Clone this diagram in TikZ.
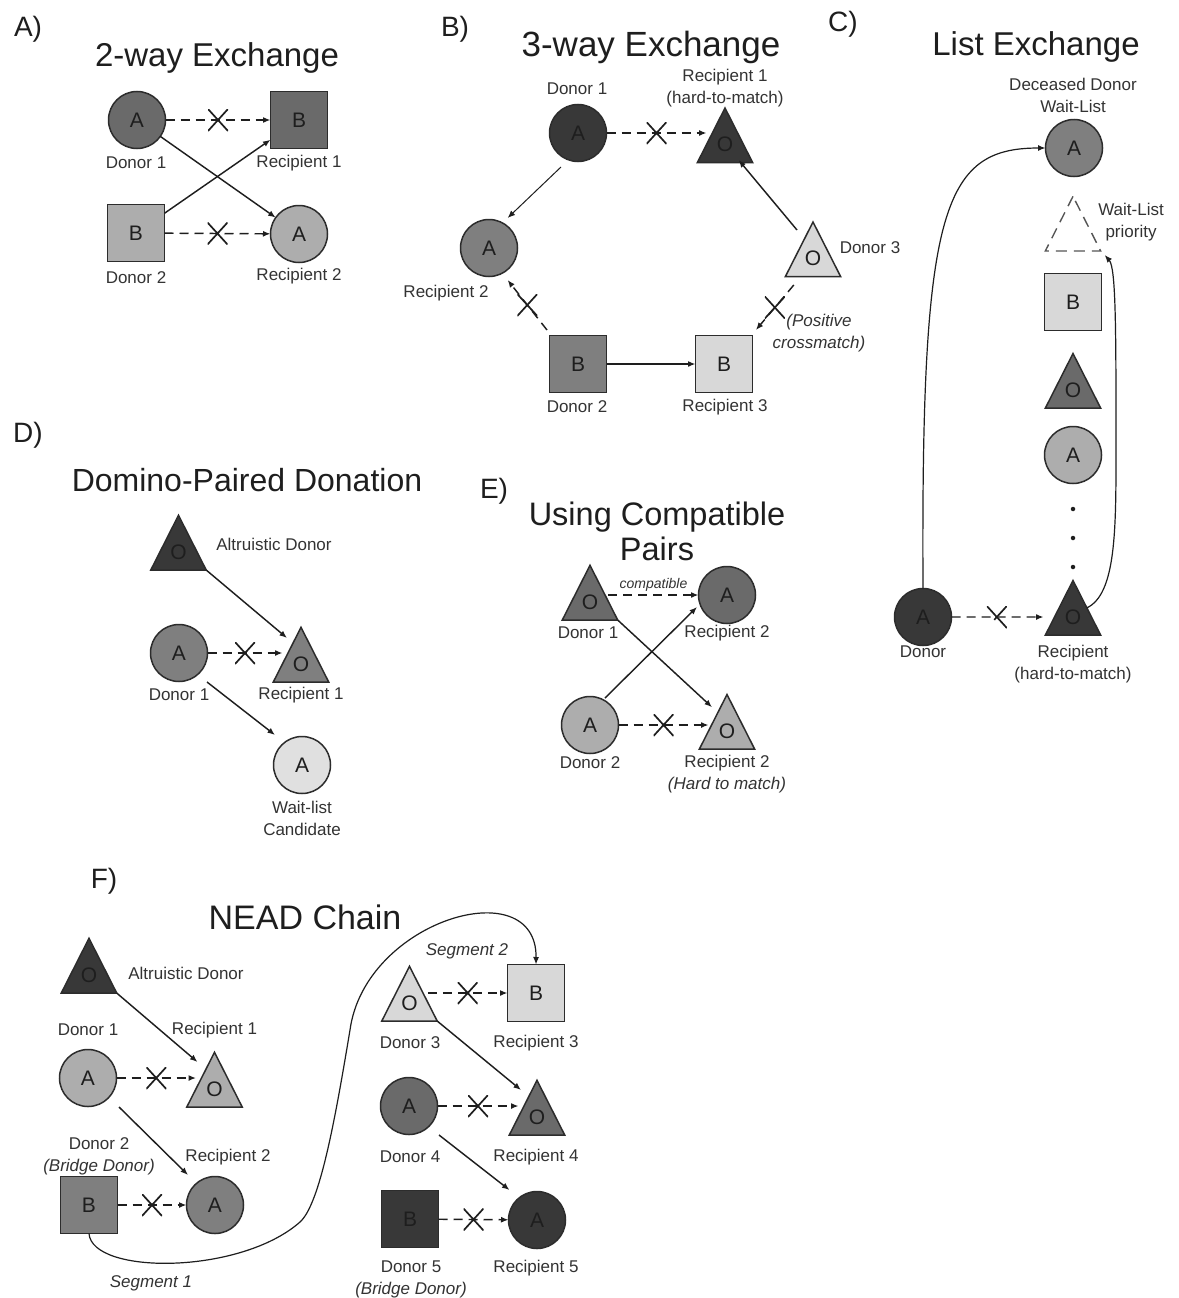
\documentclass[tikz,border=0pt]{standalone}
\usepackage{fontspec}
\setmainfont{Liberation Sans}
\usetikzlibrary{arrows.meta,shapes.geometric,calc}

\definecolor{edge}{HTML}{2C2C2C}
\definecolor{ink}{HTML}{1E1E1E}
\definecolor{lbltxt}{HTML}{333333}
\definecolor{gA}{HTML}{383838}
\definecolor{gB}{HTML}{6A6A6A}
\definecolor{gC}{HTML}{7F7F7F}
\definecolor{gD}{HTML}{ADADAD}
\definecolor{gE}{HTML}{D8D8D8}
\definecolor{gF}{HTML}{E0E0E0}

\newcommand\lblsize{\fontsize{17}{22}\selectfont}
\newcommand\lettersize{\fontsize{21}{24}\selectfont}
\newcommand\panelsize{\fontsize{28}{30}\selectfont}
\newcommand\tinysize{\fontsize{14}{16}\selectfont\itshape}
\newcommand\titlesize[1]{\fontsize{#1}{35}\selectfont}
% letter inside a triangle, undoing the vertical stretch of the shape
\newcommand\triO{\scalebox{1}[0.877]{O}}

\tikzset{
  blood/.style={draw=edge, line width=1.5pt, inner sep=0pt, outer sep=0pt, font=\lettersize, text=ink},
  circ/.style={blood, circle, minimum size=57pt},
  sq/.style={blood, rectangle, minimum size=57pt},
  tri/.style={blood, regular polygon, regular polygon sides=3, minimum size=64pt, yscale=1.14, transform shape},
  lbl/.style={font=\lblsize, text=lbltxt, inner sep=0pt, align=center},
  ilbl/.style={lbl, font=\lblsize\itshape},
  tinylbl/.style={font=\tinysize, text=lbltxt, inner sep=0pt},
  ttl/.style={text=ink, inner sep=0pt, align=center, font=\titlesize{#1}},
  panel/.style={font=\panelsize, text=ink, inner sep=0pt},
  give/.style={draw=ink, line width=1.45pt, -{Latex[length=7.5pt,width=6pt]}},
  thingive/.style={give, line width=1pt},
  nogo/.style={give, dash pattern=on 9pt off 6pt},
  xmark/.style={minimum width=20pt, minimum height=22pt, inner sep=0pt, outer sep=0pt, solid,
    path picture={\draw[ink, line width=1.7pt, solid, -]
      (path picture bounding box.north west) -- (path picture bounding box.south east)
      (path picture bounding box.north east) -- (path picture bounding box.south west);}},
  dotn/.style={circle, fill=ink, minimum size=4.5pt, inner sep=0pt},
}

\begin{document}
\begin{tikzpicture}[x=1pt,y=-1pt]
\fill[white] (0,0) rectangle (1178,1298);
\useasboundingbox (0,0) rectangle (1178,1298);

% ---------------- A) 2-way exchange ----------------
\node[panel] (pA) at (28,29) {A)};
\node[ttl=33] (tA) at (217,58) {2-way Exchange};
\node[circ, fill=gB] (aD1) at (137,120) {A};
\node[sq, fill=gB] (aR1) at (299,120) {B};
\node[sq, fill=gD] (aD2) at (136,233) {B};
\node[circ, fill=gD] (aR2) at (299,234) {A};
\node[lbl] (laD1) at (136,163) {Donor 1};
\node[lbl] (laR1) at (299,163) {Recipient 1};
\node[lbl] (laD2) at (136,278) {Donor 2};
\node[lbl] (laR2) at (299,276) {Recipient 2};
\draw[nogo] (aD1) -- node[xmark] (xa1) {} (aR1);
\draw[nogo] (aD2) -- node[xmark] (xa2) {} (aR2);
\draw[give] (aD1) -- (aR2);
\draw[give] (aD2) -- (aR1);

% ---------------- B) 3-way exchange ----------------
\node[panel] (pB) at (455,29) {B)};
\node[ttl=35] (tB) at (651,47) {3-way Exchange};
\node[circ, fill=gA] (bD1) at (578,133) {A};
\node[tri, fill=gA] (bR1) at (725,144.5) {\triO};
\node[circ, fill=gC] (bR2) at (489,248) {A};
\node[tri, fill=gE] (bD3) at (813,258.5) {\triO};
\node[sq, fill=gC] (bD2) at (578,364) {B};
\node[sq, fill=gE] (bR3) at (724,364) {B};
\node[lbl] (lbD1) at (577,89) {Donor 1};
\node[lbl] (lbR1) at (725,88) {Recipient 1\\(hard-to-match)};
\node[lbl] (lbR2) at (446,293) {Recipient 2};
\node[lbl] (lbD3) at (870,248) {Donor 3};
\node[lbl] (lbD2) at (577,407) {Donor 2};
\node[lbl] (lbR3) at (725,407) {Recipient 3};
\node[ilbl] (lbPC) at (819,333) {(Positive\\crossmatch)};
\draw[nogo] (bD1.east) -- node[xmark] (xb1) {} (bR1.west |- bD1.east);
\draw[thingive] ([shift={(-17,34)}]bD1.center) -- ([shift={(18.6,-30)}]bR2.center);
\draw[give] ([shift={(-16,-28.5)}]bD3.center) -- ([shift={(13.6,15.5)}]bR1.center);
\draw[give] (bD2) -- (bR3);
\draw[nogo] ([shift={(-31,-34)}]bD2.center) -- node[xmark] (xb2) {} ([shift={(18.6,32)}]bR2.center);
\draw[nogo] ([shift={(-19.2,26.5)}]bD3.center) -- node[xmark] (xb3) {} ([shift={(31.9,-34)}]bR3.center);

% ---------------- C) list exchange ----------------
\node[panel] (pC) at (843,24) {C)};
\node[ttl=33] (tC) at (1036,47) {List Exchange};
\node[lbl] (lcDD) at (1073,95) {Deceased Donor\\Wait-List};
\node[circ, fill=gC] (cDD) at (1074,148) {A};
\node[tri, fill=none, draw=edge!80, dash pattern=on 11pt off 7pt, line width=1.4pt] (cWL) at (1073,232.8) {};
\node[lbl] (lcWL) at (1131,222) {Wait-List\\priority};
\node[sq, fill=gE] (cB) at (1073,302) {B};
\node[tri, fill=gB] (cO) at (1073,390) {\triO};
\node[circ, fill=gD] (cA) at (1073,455) {A};
\node[dotn] (cdot1) at (1073,509) {};
\node[dotn] (cdot2) at (1073,538) {};
\node[dotn] (cdot3) at (1073,567) {};
\node[tri, fill=gA] (cR) at (1073,617) {\triO};
\node[circ, fill=gA] (cD) at (923,617) {A};
\node[lbl] (lcD) at (923,652) {Donor};
\node[lbl] (lcR) at (1073,664) {Recipient\\(hard-to-match)};
\draw[nogo, shorten >=11pt] (cD) -- node[xmark, pos=0.44] (xc1) {} (cR);
\draw[give, line width=1.2pt] (cD.north) .. controls (921,210) and (942,148) .. (cDD.west);
\coordinate (cbend) at (1116,450);
\draw[give, line width=1.2pt] (cR.30) .. controls (1116,594) and (1116,530) .. (cbend)
  .. controls (1116,330) and (1116,268) .. ([shift={(4,4)}]cWL.corner 3);

% ---------------- D) domino-paired donation ----------------
\node[panel] (pD) at (28,435) {D)};
\node[ttl=32] (tD) at (247,480) {Domino-Paired Donation};
\node[tri, fill=gA] (dAD) at (178.5,551.8) {\triO};
\node[lbl] (ldAD) at (274,544) {Altruistic Donor};
\node[circ, fill=gC] (dD1) at (179,653) {A};
\node[tri, fill=gC] (dR1) at (301,663.8) {\triO};
\node[circ, fill=gF] (dWL) at (302,765) {A};
\node[lbl] (ldD1) at (179,695) {Donor 1};
\node[lbl] (ldR1) at (301,695) {Recipient 1};
\node[lbl] (ldWL) at (302,818) {Wait-list\\Candidate};
\draw[give] (dAD.corner 3) -- ([shift={(-14,-25.8)}]dR1.center);
\draw[nogo] (dD1.east) -- node[xmark] (xd1) {} (dR1.west |- dD1.east);
\draw[give] ([shift={(28,29)}]dD1.center) -- ([shift={(-27,-30)}]dWL.center);

% ---------------- E) using compatible pairs ----------------
\node[panel] (pE) at (494,491) {E)};
\node[ttl=32.5] (tE) at (657,531) {Using Compatible\\Pairs};
\node[tri, fill=gB] (eD1) at (590,601.8) {\triO};
\node[circ, fill=gB] (eR2a) at (727,595) {A};
\node[circ, fill=gD] (eD2) at (590,725) {A};
\node[tri, fill=gD] (eR2b) at (727,731) {\triO};
\node[lbl] (leD1) at (588,633) {Donor 1};
\node[lbl] (leR2a) at (727,633) {Recipient 2};
\node[lbl] (leD2) at (590,763) {Donor 2};
\node[lbl] (leR2b) at (727,774) {Recipient 2\\{\itshape (Hard to match)}};
\draw[nogo] (eR2a.west -| eD1.east) -- node[tinylbl, above=3pt] (lcomp) {compatible} (eR2a.west);
\draw[nogo] (eD2.east) -- node[xmark] (xe1) {} (eR2b.west |- eD2.east);
\draw[give] (eD1.corner 3) -- ([shift={(-15,-23.8)}]eR2b.center);
\draw[give] ([shift={(15,-27)}]eD2.center) -- ([shift={(-30,12)}]eR2a.center);

% ---------------- F) NEAD chain ----------------
\node[panel] (pF) at (104,881) {F)};
\node[ttl=34] (tF) at (305,917) {NEAD Chain};
\node[tri, fill=gA] (fAD) at (89,974.8) {\triO};
\node[circ, fill=gD] (fD1) at (88,1078) {A};
\node[tri, fill=gD] (fR1) at (214.5,1088.8) {\triO};
\node[sq, fill=gC] (fD2) at (89,1205) {B};
\node[circ, fill=gC] (fR2) at (215,1205) {A};
\node[tri, fill=gE] (fD3) at (409.5,1002.8) {\triO};
\node[sq, fill=gE] (fR3) at (536,993) {B};
\node[circ, fill=gB] (fD4) at (409,1106) {A};
\node[tri, fill=gB] (fR4) at (537,1116.8) {\triO};
\node[sq, fill=gA] (fD5) at (410,1219) {B};
\node[circ, fill=gA] (fR5) at (537,1220) {A};
\node[lbl] (lfAD) at (186,973) {Altruistic Donor};
\node[lbl] (lfD1) at (88,1030) {Donor 1};
\node[lbl] (lfR1) at (214.5,1030) {Recipient 1};
\node[lbl] (lfD2) at (99,1156) {Donor 2\\{\itshape (Bridge Donor)}};
\node[lbl] (lfR2) at (228,1157) {Recipient 2};
\node[ilbl] (lfS1) at (151,1283) {Segment 1};
\node[ilbl] (lfS2) at (467,951) {Segment 2};
\node[lbl] (lfD3) at (410,1043) {Donor 3};
\node[lbl] (lfR3) at (536,1043) {Recipient 3};
\node[lbl] (lfD4) at (410,1157) {Donor 4};
\node[lbl] (lfR4) at (536,1157) {Recipient 4};
\node[lbl] (lfD5) at (411,1279) {Donor 5\\{\itshape (Bridge Donor)}};
\node[lbl] (lfR5) at (536,1268) {Recipient 5};
\draw[give] (fAD.corner 3) -- ([shift={(-17,-26.8)}]fR1.center);
\draw[nogo] (fD1.east) -- node[xmark] (xf1) {} (fR1.west |- fD1.east);
\draw[give] ([shift={(31,29)}]fD1.center) -- ([shift={(-27,-30)}]fR2.center);
\draw[nogo] (fD2) -- node[xmark] (xf2) {} (fR2);
\coordinate (fbend1) at (300,1222);
\coordinate (fbend2) at (350,1030);
\draw[give, line width=1.2pt] (fD2.south) .. controls (92,1275) and (240,1275) .. (fbend1)
  .. controls (320,1204) and (335,1120) .. (fbend2)
  .. controls (365,920) and (537,870) .. (fR3.north);
\draw[nogo] (fR3.west -| fD3.east) -- node[xmark] (xf3) {} (fR3.west);
\draw[give] (fD3.corner 3) -- ([shift={(-16,-26.8)}]fR4.center);
\draw[nogo] (fD4.east) -- node[xmark] (xf4) {} (fR4.west |- fD4.east);
\draw[give] ([shift={(30,29)}]fD4.center) -- ([shift={(-27.5,-30)}]fR5.center);
\draw[nogo] (fD5) -- node[xmark] (xf5) {} (fR5);
\end{tikzpicture}
\end{document}
